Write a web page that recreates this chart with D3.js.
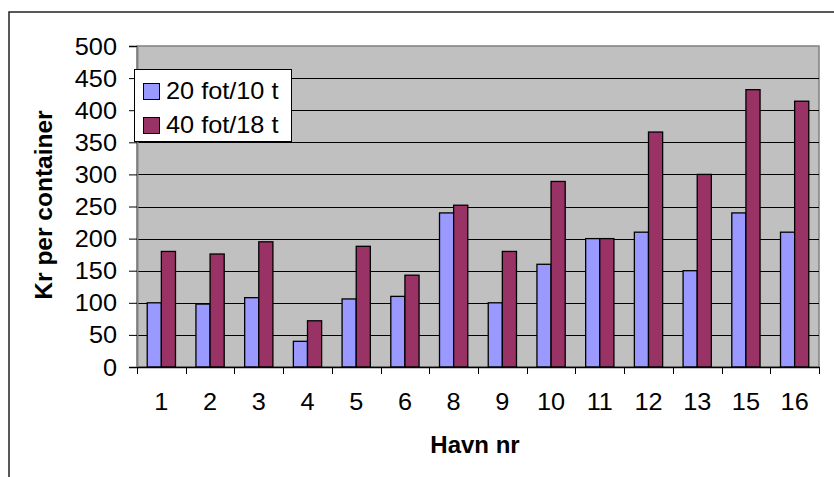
<!DOCTYPE html>
<html>
<head>
<meta charset="utf-8">
<script src="https://cdn.jsdelivr.net/npm/d3@7"></script>
<style>
  html, body { margin: 0; padding: 0; background: #ffffff; }
  svg { display: block; font-family: "Liberation Sans", Arial, sans-serif; }
</style>
</head>
<body>
<svg id="chart" width="834" height="477"></svg>
<script>
// Harbour numbers along the x axis
const havn = ["1", "2", "3", "4", "5", "6", "8", "9", "10", "11", "12", "13", "15", "16"];
// Cost per container, 20 ft / 10 t
const fot20 = [100, 98, 108, 40, 106, 110, 240, 100, 160, 200, 210, 150, 240, 210];
// Cost per container, 40 ft / 18 t
const fot40 = [180, 176, 195, 72, 188, 143, 252, 180, 289, 200, 366, 300, 432, 414];
const seriesNames = ["20 fot/10 t", "40 fot/18 t"];
const seriesColors = ["#9999FF", "#993366"];
const yTicks = [0, 50, 100, 150, 200, 250, 300, 350, 400, 450, 500];

const svg = d3.select("#chart");
const plot = { left: 137, right: 819, top: 46, bottom: 367 };
const FS = 23;   // label font size
const SX = 1.1;  // horizontal stretch of the label glyphs

// Outer frame (open at right and bottom)
svg.append("path")
  .attr("d", "M9,477 L9,12 L834,12")
  .attr("fill", "none").attr("stroke", "#222").attr("stroke-width", 1.5);

const x = d3.scaleBand().domain(havn).range([plot.left, plot.right]).padding(0);
const y = d3.scaleLinear().domain([0, 500]).range([plot.bottom, plot.top]);
const gap = x.bandwidth() * 0.21;
const xs = d3.scaleBand().domain([0, 1]).range([gap, x.bandwidth() - gap]).padding(0);

// Plot background
svg.append("rect")
  .attr("x", plot.left).attr("y", plot.top)
  .attr("width", plot.right - plot.left).attr("height", plot.bottom - plot.top)
  .attr("fill", "#C0C0C0").attr("stroke", "#808080").attr("stroke-width", 1.5);

// Horizontal gridlines
svg.append("g").selectAll("line")
  .data(yTicks.filter(d => d > 0 && d < 500))
  .join("line")
  .attr("x1", plot.left).attr("x2", plot.right)
  .attr("y1", d => Math.round(y(d)) + 0.5).attr("y2", d => Math.round(y(d)) + 0.5)
  .attr("stroke", "#000").attr("stroke-width", 1);

// Bars
const rows = havn.map((h, i) => ({ h, vals: [fot20[i], fot40[i]] }));
const groups = svg.append("g").selectAll("g")
  .data(rows).join("g")
  .attr("transform", d => `translate(${x(d.h)},0)`);
groups.selectAll("rect")
  .data(d => d.vals.map((v, k) => ({ v, k })))
  .join("rect")
  .attr("x", d => xs(d.k))
  .attr("y", d => y(d.v))
  .attr("width", xs.bandwidth())
  .attr("height", d => y(0) - y(d.v))
  .attr("fill", d => seriesColors[d.k])
  .attr("stroke", "#000").attr("stroke-width", 1.3);

// Y axis
const yAxis = d3.axisLeft(y).tickValues(yTicks).tickSize(8).tickPadding(0).tickFormat(d3.format("d"));
const gy = svg.append("g").attr("transform", `translate(${plot.left},0)`).call(yAxis);
gy.select(".domain").attr("stroke", "#808080").attr("stroke-width", 2);
gy.selectAll(".tick line").attr("stroke", "#000");
gy.selectAll(".tick text").remove();
svg.append("g").selectAll("text")
  .data(yTicks).join("text")
  .attr("transform", d => `translate(117,${y(d) + 8.5}) scale(${SX},1)`)
  .attr("text-anchor", "end")
  .attr("font-size", FS).attr("fill", "#000")
  .text(d => d);

// X axis
const xAxis = d3.axisBottom(x).tickSize(0).tickFormat("");
const gx = svg.append("g").attr("transform", `translate(0,${plot.bottom})`).call(xAxis);
gx.select(".domain").attr("stroke", "#000").attr("stroke-width", 1.5);
gx.selectAll(".tick").remove();
// Tick marks on category boundaries
svg.append("g").selectAll("line")
  .data(havn.map(h => x(h)).concat([plot.right]))
  .join("line")
  .attr("x1", d => Math.round(d) + 0.5).attr("x2", d => Math.round(d) + 0.5)
  .attr("y1", plot.bottom).attr("y2", plot.bottom + 7)
  .attr("stroke", "#000");
svg.append("g").selectAll("text")
  .data(havn).join("text")
  .attr("transform", d => `translate(${x(d) + x.bandwidth() / 2},410) scale(${SX},1)`)
  .attr("text-anchor", "middle")
  .attr("font-size", FS).attr("fill", "#000")
  .text(d => d);

// Axis titles
svg.append("text")
  .attr("x", 475).attr("y", 453)
  .attr("text-anchor", "middle")
  .attr("font-size", 24).attr("font-weight", "bold")
  .text("Havn nr");
svg.append("text")
  .attr("transform", "translate(52,205) rotate(-90)")
  .attr("text-anchor", "middle")
  .attr("font-size", 24.5).attr("font-weight", "bold")
  .text("Kr per container");

// Legend
const lg = svg.append("g");
lg.append("rect")
  .attr("x", 134.5).attr("y", 69.5).attr("width", 157).attr("height", 72)
  .attr("fill", "#fff").attr("stroke", "#000").attr("stroke-width", 1);
seriesNames.forEach((name, i) => {
  const yy = 83 + i * 34;
  lg.append("rect")
    .attr("x", 143.5).attr("y", yy + 0.5).attr("width", 16).attr("height", 16)
    .attr("fill", seriesColors[i]).attr("stroke", "#000").attr("stroke-width", 1);
  lg.append("text")
    .attr("transform", `translate(166,${yy + 15.5}) scale(${SX},1)`)
    .attr("font-size", FS).attr("fill", "#000")
    .text(name);
});
</script>
</body>
</html>
